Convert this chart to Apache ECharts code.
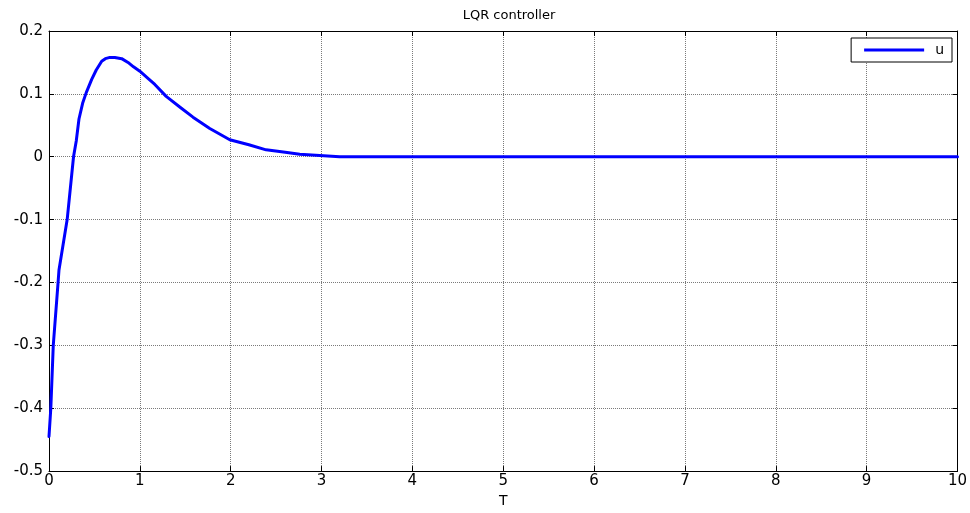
<!DOCTYPE html>
<html><head><meta charset="utf-8">
<script src="https://cdn.jsdelivr.net/npm/echarts@6/dist/echarts.min.js"></script>
<style>html,body{margin:0;padding:0;background:#fff}#c{width:970px;height:513px}</style>
</head><body><div id="c"></div>
<script>
var tValues = [0,0.02,0.047,0.1,0.11,0.2,0.27,0.3,0.33,0.37,0.41,0.47,0.52,0.58,0.62,0.67,0.725,0.8,0.87,0.93,1.0,1.08,1.165,1.29,1.45,1.585,1.77,1.99,2.2,2.39,2.6,2.76,2.98,3.2,10];
var uValues = [-0.445,-0.4,-0.3,-0.2,-0.18,-0.1,0.0,0.025,0.06,0.085,0.102,0.123,0.138,0.152,0.156,0.158,0.158,0.156,0.15,0.143,0.136,0.126,0.115,0.096,0.078,0.063,0.045,0.027,0.019,0.011,0.007,0.004,0.002,0.0,0.0];
var titleText = 'LQR controller';
var xLabel = 'T';
var seriesName = 'u';

var data = tValues.map(function(t,i){return [t,uValues[i]];});
var font = 'DejaVu Sans, Liberation Sans, Arial, sans-serif';
var chart = echarts.init(document.getElementById('c'));
var gridLine = {show:true, lineStyle:{color:'#7a7a7a', type:'dotted', width:1}};
chart.setOption({
  animation:false,
  title:{text:titleText, left:504, textAlign:'center', top:4, textStyle:{fontFamily:font, fontSize:13, fontWeight:'normal', color:'#000'}},
  legend:{right:18, top:38, data:[seriesName], icon:'rect', itemWidth:60, itemHeight:3,
    backgroundColor:'#fff', borderColor:'#000', borderWidth:1, borderRadius:0,
    padding:[5,8,5,13], textStyle:{fontFamily:font, fontSize:14, color:'#000', padding:[0,0,0,6]}},
  grid:{left:49, right:11, top:31, bottom:34, containLabel:false},
  xAxis:[{type:'value', min:0, max:10, interval:1, position:'bottom',
    name:xLabel, nameLocation:'middle', nameGap:20, nameTextStyle:{fontFamily:font, fontSize:14, color:'#000'},
    axisLine:{show:true, onZero:false, lineStyle:{color:'#000', width:1}},
    axisTick:{show:true, inside:true, length:5, lineStyle:{color:'#000'}},
    axisLabel:{fontFamily:font, fontSize:15, color:'#000', margin:3},
    splitLine:gridLine},
   {type:'value', min:0, max:10, interval:1, position:'top',
    axisLine:{show:true, onZero:false, lineStyle:{color:'#000', width:1}},
    axisTick:{show:true, inside:true, length:5, lineStyle:{color:'#000'}},
    axisLabel:{show:false}, splitLine:{show:false}}],
  yAxis:[{type:'value', min:-0.5, max:0.2, interval:0.1, position:'left',
    axisLine:{show:true, onZero:false, lineStyle:{color:'#000', width:1}},
    axisTick:{show:true, inside:true, length:5, lineStyle:{color:'#000'}},
    axisLabel:{fontFamily:font, fontSize:15, color:'#000', margin:6,
      formatter:function(v){var r=Math.round(v*10)/10; return r===0?'0':String(r);}},
    splitLine:gridLine},
   {type:'value', min:-0.5, max:0.2, interval:0.1, position:'right',
    axisLine:{show:true, onZero:false, lineStyle:{color:'#000', width:1}},
    axisTick:{show:true, inside:true, length:5, lineStyle:{color:'#000'}},
    axisLabel:{show:false}, splitLine:{show:false}}],
  series:[{name:seriesName, type:'line', data:data, showSymbol:false, smooth:false,
    lineStyle:{color:'#0000ff', width:3, join:'round', cap:'round'}, itemStyle:{color:'#0000ff'}}]
});
</script></body></html>
